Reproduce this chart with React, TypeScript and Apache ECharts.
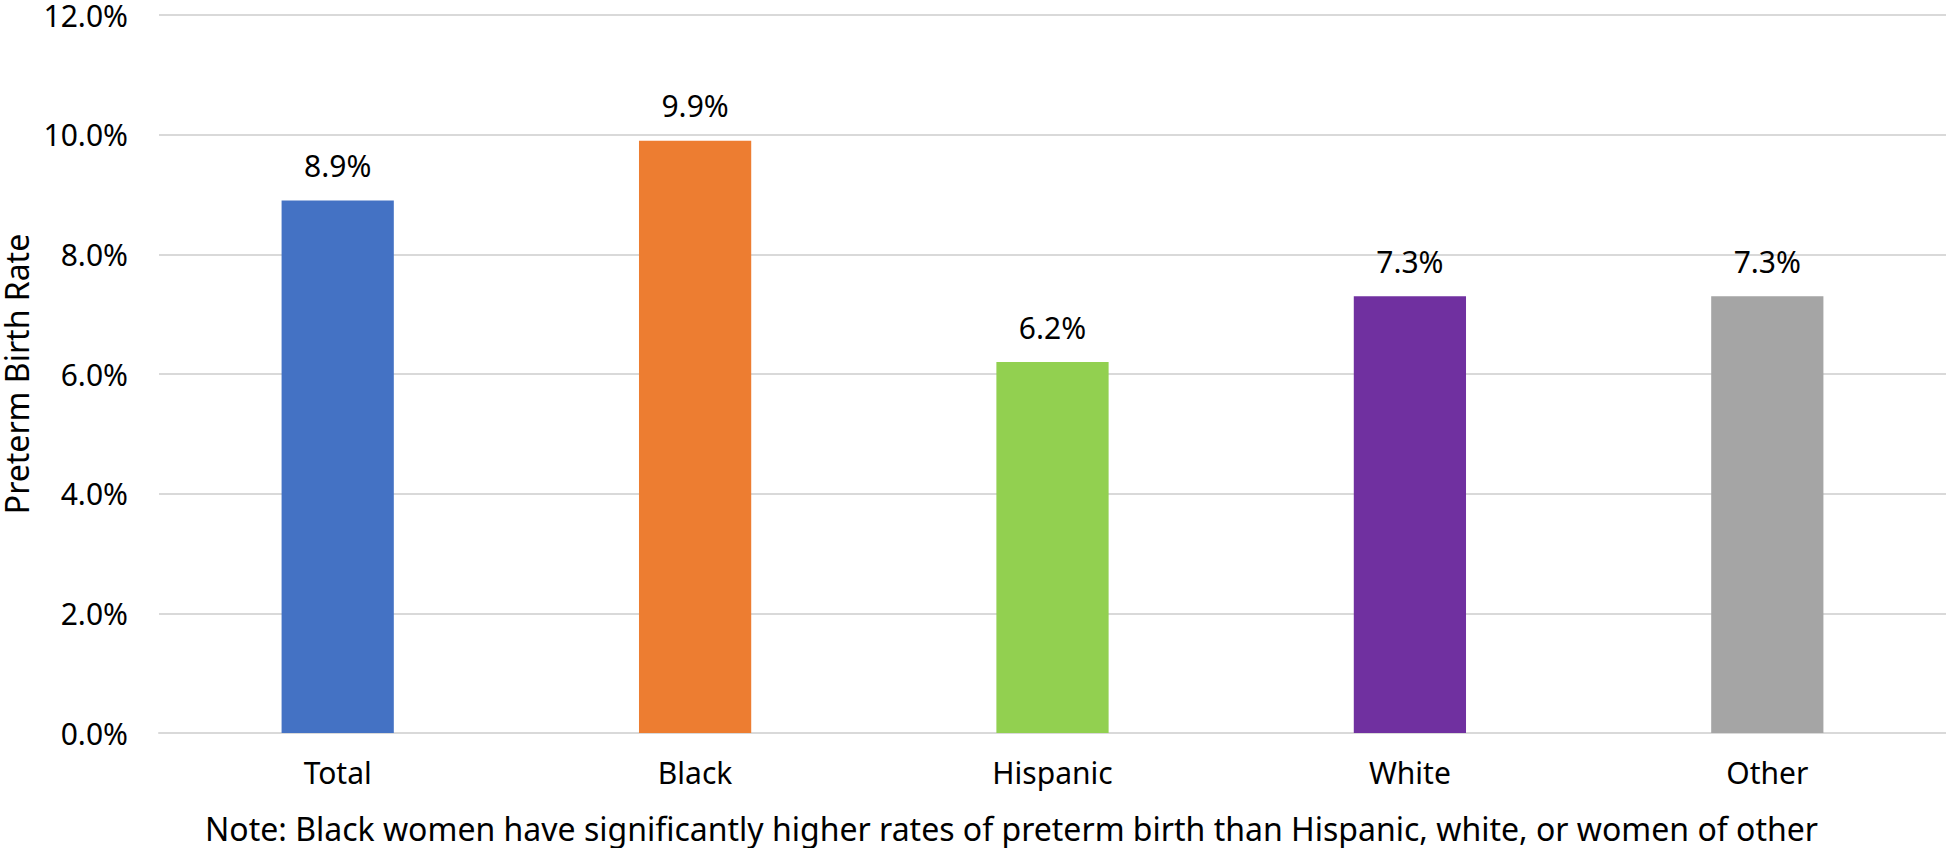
import React, { useEffect, useRef } from "react";
import * as echarts from "echarts";

const categories = ["Total", "Black", "Hispanic", "White", "Other"];
const values = [8.9, 9.9, 6.2, 7.3, 7.3];
const barColors = ["#4472C4", "#ED7D31", "#92D050", "#7030A0", "#A5A5A5"];
const yTicks = { min: 0, max: 12, interval: 2 };
const yTitle = "Preterm Birth Rate";
const note = "Note: Black women have significantly higher rates of preterm birth than Hispanic, white, or women of other";

const FONT = "'Noto Sans', sans-serif";

export default function App() {
  const ref = useRef<HTMLDivElement>(null);
  useEffect(() => {
    if (!ref.current) return;
    const chart = echarts.init(ref.current, null, { renderer: "svg" });
    chart.setOption({
      animation: false,
      backgroundColor: "#ffffff",
      textStyle: { fontFamily: FONT },
      grid: {
        left: 159,
        right: 0,
        top: 15,
        bottom: 115,
        containLabel: false,
        outerBoundsMode: "none",
      },
      xAxis: {
        type: "category",
        data: categories,
        axisLine: { show: true, lineStyle: { color: "#d9d9d9", width: 2 } },
        axisTick: { show: false },
        axisLabel: { color: "#000", fontSize: 30, fontFamily: FONT, margin: 24 },
      },
      yAxis: {
        type: "value",
        min: yTicks.min,
        max: yTicks.max,
        interval: yTicks.interval,
        name: yTitle,
        nameLocation: "middle",
        nameRotate: 90,
        nameGap: 120,
        nameTextStyle: { color: "#000", fontSize: 32, fontFamily: FONT },
        axisLine: { show: false },
        axisTick: { show: false },
        splitLine: { lineStyle: { color: "#d9d9d9", width: 2 } },
        axisLabel: {
          color: "#000",
          fontSize: 30,
          fontFamily: FONT,
          margin: 31,
          formatter: (v: number) => v.toFixed(1) + "%",
        },
      },
      series: [
        {
          type: "bar",
          barWidth: "31.4%",
          data: values.map((v, i) => ({ value: v, itemStyle: { color: barColors[i] } })),
          label: {
            show: true,
            position: "top",
            distance: 20,
            color: "#000",
            fontSize: 30,
            fontFamily: FONT,
            formatter: (p: any) => p.value.toFixed(1) + "%",
          },
        },
      ],
      graphic: [
        {
          type: "text",
          left: 205,
          top: 812,
          style: { text: note, fill: "#000", font: `32px ${FONT}` },
        },
      ],
    });
    return () => chart.dispose();
  }, []);
  return (
    <div
      ref={ref}
      style={{ position: "fixed", left: 0, top: 0, width: 1946, height: 848 }}
    />
  );
}
